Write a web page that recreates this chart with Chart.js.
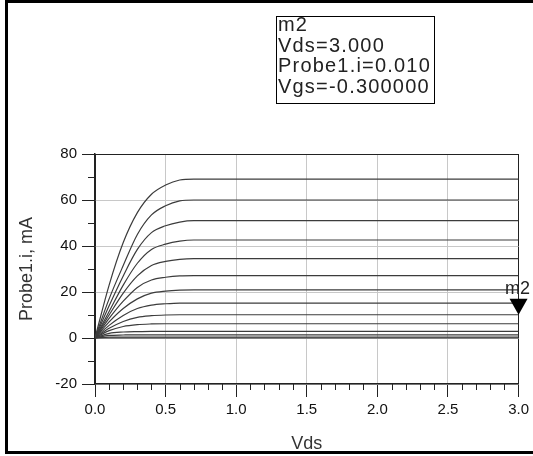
<!DOCTYPE html>
<html lang="en">
<head>
  <meta charset="UTF-8">
  <title>Probe1.i vs Vds</title>
  <script src="https://cdn.jsdelivr.net/npm/chart.js"></script>
  <style>
    html, body { margin: 0; padding: 0; background: #fff; }
    #wrap { width: 533px; height: 456px; position: relative; }
  </style>
</head>
<body>
<div id="wrap"><canvas id="ivChart"></canvas></div>

<script>
  // Vds sweep points (V) - the curves are flat after the knee so 3.0 closes them
  const vdsPoints = [0, 0.1, 0.2, 0.3, 0.4, 0.5, 0.6, 0.7, 3.0];

  // gate voltage of each curve, top curve first
  const vgsValues = [0.1, 0.05, 0, -0.05, -0.1, -0.15, -0.2, -0.25, -0.3, -0.35, -0.4, -0.45, -0.5, -0.55];

  // Probe1.i in mA, one array per curve
  const curve1  = [0, 23.0, 41.5, 54.5, 62.5, 66.5, 68.7, 69.1, 69.1];
  const curve2  = [0, 17.0, 31.5, 45.0, 53.5, 57.5, 59.6, 60.0, 60.0];
  const curve3  = [0, 14.0, 27.0, 38.5, 45.8, 48.8, 50.4, 51.0, 51.0];
  const curve4  = [0, 11.5, 23.0, 32.5, 38.5, 40.8, 42.1, 42.6, 42.6];
  const curve5  = [0, 10.0, 19.5, 27.0, 31.5, 33.3, 34.2, 34.5, 34.5];
  const curve6  = [0, 8.5, 16.0, 22.0, 25.2, 26.4, 27.0, 27.1, 27.1];
  const curve7  = [0, 7.0, 12.8, 17.0, 19.5, 20.4, 20.8, 20.9, 20.9];
  const curve8  = [0, 5.5, 9.8, 12.8, 14.3, 14.9, 15.2, 15.2, 15.2];
  const curve9  = [0, 4.2, 7.2, 9.0, 9.7, 10.0, 10.1, 10.1, 10.1];
  const curve10 = [0, 3.2, 5.0, 5.8, 6.1, 6.2, 6.2, 6.2, 6.2];
  const curve11 = [0, 2.0, 2.6, 2.8, 2.9, 2.9, 2.9, 2.9, 2.9];
  const curve12 = [0, 1.1, 1.3, 1.4, 1.4, 1.4, 1.4, 1.4, 1.4];
  const curve13 = [0, 0.4, 0.4, 0.4, 0.4, 0.4, 0.4, 0.4, 0.4];
  const curve14 = [0, 0, 0, 0, 0, 0, 0, 0, 0];

  const curves = [curve1, curve2, curve3, curve4, curve5, curve6, curve7,
                  curve8, curve9, curve10, curve11, curve12, curve13, curve14];

  // marker m2 sits on the Vgs=-0.3 curve at the end of the sweep
  const markerName = 'm2';
  const markerCurve = 8;
  const markerVds = 3.0;

  const FONT = 'Liberation Sans';

  const datasets = curves.map((c, i) => ({
    label: 'Vgs=' + vgsValues[i],
    data: vdsPoints.map((v, k) => ({ x: v, y: c[k] })),
    borderColor: '#3c3c3c',
    borderWidth: 1.2,
    pointRadius: 0,
    cubicInterpolationMode: 'monotone',
    fill: false
  }));

  // minor ticks, outer frame and the m2 marker
  const extras = {
    id: 'extras',
    afterDraw(chart) {
      const { ctx, scales: { x, y } } = chart;
      ctx.save();

      // minor ticks
      ctx.strokeStyle = '#222';
      ctx.lineWidth = 1;
      ctx.beginPath();
      for (let i = 0; i <= 30; i++) {
        if (i % 5 === 0) continue;
        const px = Math.round(x.getPixelForValue(i / 10)) + 0.5;
        ctx.moveTo(px, y.bottom);
        ctx.lineTo(px, y.bottom + 6);
      }
      for (let v = -10; v < 80; v += 20) {
        const py = Math.round(y.getPixelForValue(v)) + 0.5;
        ctx.moveTo(x.left - 7, py);
        ctx.lineTo(x.left, py);
      }
      ctx.stroke();

      // outer frame (right side is off the picture)
      ctx.strokeStyle = '#000';
      ctx.lineWidth = 3;
      ctx.beginPath();
      ctx.moveTo(540, 1.5);
      ctx.lineTo(6.5, 1.5);
      ctx.lineTo(6.5, 452.5);
      ctx.lineTo(540, 452.5);
      ctx.stroke();

      // marker triangle + name
      const val = curves[markerCurve][vdsPoints.indexOf(markerVds)];
      const mx = x.getPixelForValue(markerVds);
      const my = y.getPixelForValue(val);
      ctx.fillStyle = '#000';
      ctx.beginPath();
      ctx.moveTo(mx, my);
      ctx.lineTo(mx - 9, my - 16);
      ctx.lineTo(mx + 9, my - 16);
      ctx.closePath();
      ctx.fill();
      ctx.font = '18px "' + FONT + '"';
      ctx.textAlign = 'center';
      ctx.textBaseline = 'alphabetic';
      ctx.fillStyle = '#222';
      ctx.fillText(markerName, mx - 1, my - 21);

      // readout box
      const lines = [
        markerName,
        'Vds=' + markerVds.toFixed(3),
        'Probe1.i=' + (val / 1000).toFixed(3),
        'Vgs=' + vgsValues[markerCurve].toFixed(6)
      ];
      ctx.strokeStyle = '#000';
      ctx.lineWidth = 1;
      ctx.strokeRect(276.5, 16.5, 158, 87);
      ctx.font = '20px "' + FONT + '"';
      ctx.textAlign = 'left';
      ctx.letterSpacing = '1.2px';
      lines.forEach((t, i) => ctx.fillText(t, 278, 31 + i * 20.5));
      ctx.letterSpacing = '0px';

      ctx.restore();
    }
  };

  new Chart(document.getElementById('ivChart'), {
    type: 'line',
    data: { datasets: datasets },
    plugins: [extras],
    options: {
      responsive: true,
      maintainAspectRatio: false,
      animation: false,
      layout: { padding: { top: 154, right: 11, bottom: 0, left: 0 } },
      plugins: {
        legend: { display: false },
        tooltip: { enabled: false }
      },
      scales: {
        x: {
          type: 'linear',
          min: 0,
          max: 3,
          ticks: {
            stepSize: 0.5,
            color: '#111',
            padding: 4,
            maxRotation: 0,
            font: { family: FONT, size: 15 },
            callback: v => v.toFixed(1)
          },
          grid: {
            color: c => (c.tick && (c.tick.value === 0 || c.tick.value === 3)) ? '#222' : '#c8c8c8',
            tickColor: '#222',
            tickLength: 13,
            lineWidth: 1
          },
          border: { color: '#222', width: 1.5 },
          title: {
            display: true,
            text: 'Vds',
            color: '#333',
            font: { family: FONT, size: 18, lineHeight: 1.2 },
            padding: { top: 0, bottom: 1 }
          },
          afterFit: s => { s.height = 72; }
        },
        y: {
          min: -20,
          max: 80,
          ticks: {
            stepSize: 20,
            color: '#111',
            padding: 5,
            font: { family: FONT, size: 15 }
          },
          grid: {
            color: c => (c.tick && c.tick.value === 80) ? '#222' : '#c8c8c8',
            tickColor: '#222',
            tickLength: 13,
            lineWidth: 1
          },
          border: { color: '#222', width: 1.5 },
          title: {
            display: true,
            text: 'Probe1.i, mA',
            color: '#333',
            font: { family: FONT, size: 18, lineHeight: 1.2 },
            padding: { top: 16, bottom: 0 }
          },
          afterFit: s => { s.width = 95; }
        }
      }
    }
  });
</script>
</body>
</html>
